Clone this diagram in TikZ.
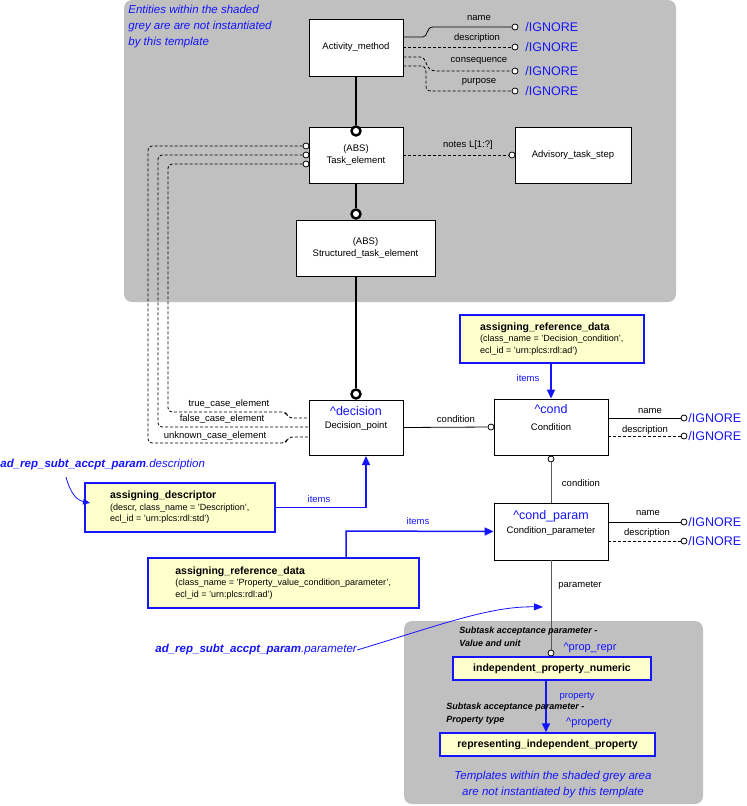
\documentclass[tikz,border=0pt]{standalone}
\usepackage{fontspec}
\setmainfont{Liberation Sans}
\usetikzlibrary{calc,arrows.meta}
\definecolor{grey}{RGB}{192,192,192}
\definecolor{pale}{RGB}{255,255,204}
\definecolor{bl}{RGB}{20,20,255}
\begin{document}
\begin{tikzpicture}[x=1pt,y=-1pt,line width=0.8pt,
 ent/.style={draw,fill=white,align=center,font=\fontsize{9.5}{12}\selectfont,inner sep=0},
 tpl/.style={draw=bl,line width=1.5pt,fill=pale,align=left,font=\fontsize{9}{11.5}\selectfont,inner sep=4pt,anchor=north west},
 ign/.style={text=bl,font=\fontsize{12.5}{14}\selectfont,anchor=west,inner sep=1pt},
 lab/.style={font=\fontsize{9.5}{12}\selectfont,inner sep=1pt},
 blab/.style={font=\fontsize{9.5}{12}\selectfont,text=bl,inner sep=1pt},
 oc/.style={draw,fill=white,circle,minimum size=6pt,inner sep=0},
 thk/.style={line width=2.6pt},
 bigc/.style={draw,line width=2.4pt,fill=white,circle,minimum size=9pt,inner sep=0},
 dsh/.style={dash pattern=on 3pt off 2pt},
 barr/.style={draw=bl,line width=1.5pt,-{Triangle[length=9pt,width=8pt]}},
 note/.style={text=bl,font=\fontsize{11.5}{16}\selectfont\itshape,align=left,inner sep=0}]
\useasboundingbox (0,0) rectangle (747,806);
\fill[grey,rounded corners=8pt] (124,0) rectangle (676,302);
\fill[grey,rounded corners=8pt] (404,621) rectangle (703,804);
\node[note,anchor=north west] (ent) at (128,5) {Entities within the shaded\\grey are are not instantiated\\by this template};
% entities
\node[ent,minimum width=94pt,minimum height=57pt] (am) at (356,47.5) {Activity\_method};
\node[ent,minimum width=94pt,minimum height=56pt] (te) at (356,155) {(ABS)\\Task\_element};
\node[ent,minimum width=116pt,minimum height=56pt] (ad) at (573,155) {Advisory\_task\_step};
\node[ent,minimum width=139pt,minimum height=56pt] (st) at (365.5,248) {(ABS)\\Structured\_task\_element};
\node[ent,minimum width=94pt,minimum height=55pt] (dp) at (356,427.5) {};
\node[blab,font=\fontsize{12.5}{14}\selectfont] (dpt) at (356,411) {\textasciicircum decision};
\node[lab] (dpn) at (356,426) {Decision\_point};
\node[ent,minimum width=114pt,minimum height=56pt] (co) at (551,427) {};
\node[blab,font=\fontsize{12.5}{14}\selectfont] (cot) at (551,409) {\textasciicircum cond};
\node[lab] (con) at (551,427) {Condition};
\node[ent,minimum width=114pt,minimum height=57pt] (cp) at (551,531.5) {};
\node[blab,font=\fontsize{12.5}{14}\selectfont] (cpt) at (551,516) {\textasciicircum cond\_param};
\node[lab] (cpn) at (551,531) {Condition\_parameter};
% thick links
\node[bigc] (c1) at (356,131) {};
\node[bigc] (c2) at (356,214) {};
\node[bigc] (c3) at (356,394) {};
\draw[thk] (am.south) -- (c1);
\draw[thk] (te.south) -- (c2);
\draw[thk] (st.south-|c3) -- (c3);
% attributes of Activity_method
\node[oc] (i1) at (515,27) {}; \node[ign] (g1) at (524,27) {/IGNORE};
\node[oc] (i2) at (515,47) {}; \node[ign] (g2) at (524,47) {/IGNORE};
\node[oc] (i3) at (515,71) {}; \node[ign] (g3) at (524,71) {/IGNORE};
\node[oc] (i4) at (515,91) {}; \node[ign] (g4) at (524,91) {/IGNORE};
\draw (am.east|-0,37) -- (423,37) .. controls (428,37) and (426,27) .. (433,27) -- (i1);
\draw[dsh] (am.east|-0,47) -- (i2);
\draw[dsh] (am.east|-0,57) -- (420,57) .. controls (428,57) and (424,71) .. (436,71) -- (i3);
\draw[dsh] (am.east|-0,66) -- (421,66) .. controls (426,66) and (426,70) .. (426,76) -- (426,86) .. controls (426,90) and (428,91) .. (432,91) -- (i4);
\node[lab] (ln1) at (479,18) {name};
\node[lab] (ln2) at (477,38) {description};
\node[lab] (ln3) at (479,61) {consequence};
\node[lab] (ln4) at (479,82) {purpose};
% notes
\node[oc] (i5) at (512,155) {};
\draw[dsh] (te.east) -- (i5);
\node[lab] (ln5) at (468,145) {notes L[1:?]};
% case elements
\node[oc] (t1) at (306,146) {};
\node[oc] (t2) at (306,155) {};
\node[oc] (t3) at (306,164) {};
\draw[dsh,rounded corners=4pt] (t1) -- (148,146) -- (148,443) -- (286,443) -- (288,437) -- (dp.west|-0,437);
\draw[dsh,rounded corners=4pt] (t2) -- (158,155) -- (158,427) -- (dp.west|-0,427);
\draw[dsh,rounded corners=4pt] (t3) -- (168,164) -- (168,412) -- (286,412) -- (288,418) -- (dp.west|-0,418);
\node[lab] (lt) at (229,404) {true\_case\_element};
\node[lab] (lf) at (222,419) {false\_case\_element};
\node[lab] (lu) at (215,436) {unknown\_case\_element};
% condition
\node[oc] (i6) at (491,427) {};
\draw (dp.east) -- (i6);
\node[lab] (ln6) at (456,419) {condition};
\node[oc] (i7) at (684,418) {}; \node[ign] (g7) at (687,418) {/IGNORE};
\node[oc] (i8) at (684,436) {}; \node[ign] (g8) at (687,436) {/IGNORE};
\draw (co.east|-0,418) -- (i7);
\draw[dsh] (co.east|-0,436) -- (i8);
\node[lab] (ln7) at (650,411) {name};
\node[lab] (ln8) at (645,430) {description};
\node[oc] (i9) at (551,459) {};
\draw[draw=black!65,line width=1pt] (i9) -- (cp.north);
\node[lab] (ln9) at (581,483) {condition};
\node[oc] (i10) at (684,522) {}; \node[ign] (g10) at (687,522) {/IGNORE};
\node[oc] (i11) at (684,541) {}; \node[ign] (g11) at (687,541) {/IGNORE};
\draw (cp.east|-0,522) -- (i10);
\draw[dsh] (cp.east|-0,541) -- (i11);
\node[lab] (ln10) at (648,513) {name};
\node[lab] (ln11) at (647,533) {description};
% templates
\node[tpl,minimum width=184pt,minimum height=48pt] (ard1) at (459,314) {\textbf{\fontsize{10.5}{13}\selectfont assigning\_reference\_data}\\(class\_name = 'Decision\_condition',\\ecl\_id = 'urn:plcs:rdl:ad')};
\draw[barr] (ard1.south-|co.north) -- (co.north);
\node[blab] (lit1) at (528,378) {items};
\node[tpl,minimum width=190pt,minimum height=49pt] (asd) at (84,482) {\textbf{\fontsize{10.5}{13}\selectfont assigning\_descriptor}\\(descr, class\_name = 'Description',\\ecl\_id = 'urn:plcs:rdl:std')};
\draw[barr] (asd.east) -- (366,507.5|-asd.east) -- (366,456);
\node[blab] (lit2) at (319,499) {items};
\node[tpl,minimum width=271pt,minimum height=50pt] (ard2) at (147,557) {\textbf{\fontsize{10.5}{13}\selectfont assigning\_reference\_data}\\(class\_name = 'Property\_value\_condition\_parameter',\\ecl\_id = 'urn:plcs:rdl:ad')};
\draw[barr] (346,557) -- (346,531) -- (cp.west);
\node[blab] (lit3) at (418,521) {items};
% parameter
\node[tpl,anchor=center,minimum width=198pt,minimum height=23pt,font=\fontsize{10.5}{13}\selectfont\bfseries] (ipn) at (552,668.5) {independent\_property\_numeric};
\node[tpl,anchor=center,minimum width=215pt,minimum height=23pt,font=\fontsize{10.5}{13}\selectfont\bfseries] (rip) at (547.5,744.5) {representing\_independent\_property};
\node[oc] (i12) at (551,653) {};
\draw[draw=black!65,line width=1pt] (cp.south) -- (i12);
\node[lab] (ln12) at (580,585) {parameter};
\draw[barr] (ipn.south-|546,0) -- (rip.north-|546,0);
\node[blab] (lp) at (577,696) {property};
\node[blab,font=\fontsize{11}{13}\selectfont] (pr) at (590,648) {\textasciicircum prop\_repr};
\node[blab,font=\fontsize{11}{13}\selectfont] (pp) at (589,723) {\textasciicircum property};
\node[lab,font=\fontsize{9}{13}\selectfont\bfseries\itshape,align=left,anchor=north west] (s1) at (458,626) {Subtask acceptance parameter -\\Value and unit};
\node[lab,font=\fontsize{9}{13}\selectfont\bfseries\itshape,align=left,anchor=north west] (s2) at (445,702) {Subtask acceptance parameter -\\Property type};
\node[note,align=center] (bt) at (553,785) {Templates within the shaded grey area\\are not instantiated by this template};
% pointers
\node[note,anchor=west] (pd) at (0,465) {\textbf{ad\_rep\_subt\_accpt\_param}.description};
\draw[draw=bl,-{Triangle[length=7pt,width=6pt]}] (66,477) .. controls (70,492) and (76,500) .. (90,503);
\node[note,anchor=west] (pa) at (155,650) {\textbf{ad\_rep\_subt\_accpt\_param}.parameter};
\draw[draw=bl,-{Triangle[length=9pt,width=7pt]}] (pa.east) .. controls (440,625) and (490,606) .. (543,607);
\end{tikzpicture}
\end{document}
